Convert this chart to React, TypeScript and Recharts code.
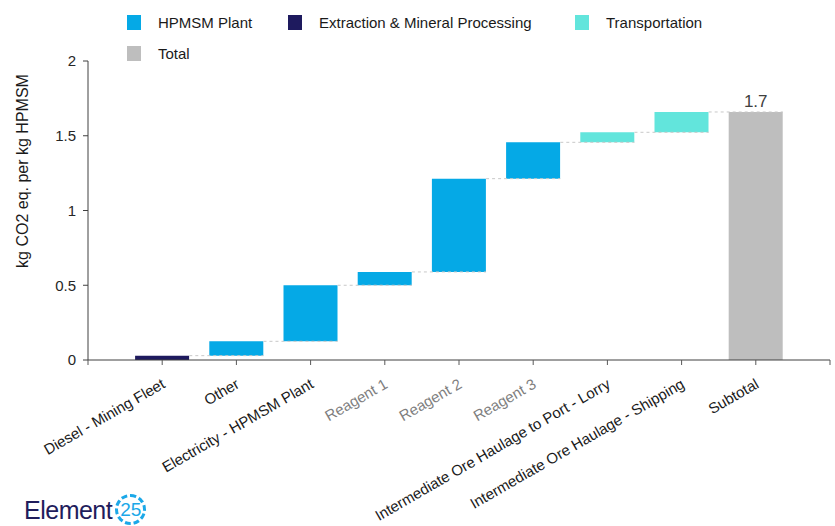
import React from "react"
import { Bar, BarChart, Cell, LabelList, Label, ReferenceLine, XAxis, YAxis } from "recharts"

const categories = [
  "Diesel - Mining Fleet",
  "Other",
  "Electricity - HPMSM Plant",
  "Reagent 1",
  "Reagent 2",
  "Reagent 3",
  "Intermediate Ore Haulage to Port - Lorry",
  "Intermediate Ore Haulage - Shipping",
  "Subtotal",
]
// contribution of each step (kg CO2 eq. per kg HPMSM), subtotal is summed
const increments = [0.029, 0.096, 0.375, 0.089, 0.624, 0.243, 0.067, 0.136]
const groups = ["extraction", "plant", "plant", "plant", "plant", "plant", "transport", "transport", "total"]
const mutedLabels = ["Reagent 1", "Reagent 2", "Reagent 3"]
const yTicks = [0, 0.5, 1, 1.5, 2]
const xTicks = [-1, 0, 1, 2, 3, 4, 5, 6, 7, 8, 9]

const colors: Record<string, string> = {
  plant: "#05A9E6",
  extraction: "#1E1A5E",
  transport: "#62E5DC",
  total: "#BEBEBE",
}

const legendItems = [
  { key: "plant", label: "HPMSM Plant" },
  { key: "extraction", label: "Extraction & Mineral Processing" },
  { key: "transport", label: "Transportation" },
  { key: "total", label: "Total" },
]

const total = increments.reduce((a, b) => a + b, 0)

let running = 0
const rows = categories.map((name, i) => {
  if (i < increments.length) {
    const row = { x: i, name, base: running, value: increments[i], end: running + increments[i], label: undefined as string | undefined }
    running += increments[i]
    return row
  }
  return { x: i, name, base: 0, value: total, end: total, label: total.toFixed(1) }
})

const font = "'Liberation Sans', Arial, sans-serif"
const halfBar = 0.365

function CategoryTick(props: any) {
  const { x, y, payload } = props
  const name = categories[payload.value]
  if (!name) return null
  const muted = mutedLabels.includes(name)
  return (
    <text
      x={x + 4}
      y={y + 22}
      textAnchor="end"
      transform={`rotate(-30, ${x + 4}, ${y + 22})`}
      fontSize={15}
      fontFamily={font}
      fill={muted ? "#7f7f7f" : "#1a1a1a"}
    >
      {name}
    </text>
  )
}

function Legend() {
  const cols = [127, 288, 575]
  return (
    <>
      {legendItems.map((item, i) => (
        <div
          key={item.key}
          style={{
            position: "absolute",
            left: cols[i % 3],
            top: i < 3 ? 14 : 45,
            display: "flex",
            alignItems: "center",
            fontSize: 15,
            color: "#1a1a1a",
          }}
        >
          <span style={{ width: 14, height: 15, background: colors[item.key], display: "inline-block" }} />
          <span style={{ marginLeft: 17 }}>{item.label}</span>
        </div>
      ))}
    </>
  )
}

export default function App() {
  return (
    <div
      style={{
        position: "absolute",
        left: 0,
        top: 0,
        width: 835,
        height: 526,
        overflow: "hidden",
        background: "#fff",
        fontFamily: font,
      }}
    >
      <BarChart width={835} height={526} data={rows} margin={{ top: 61, right: 5, left: 0, bottom: 0 }}>
        <XAxis
          type="number"
          dataKey="x"
          domain={[-1, 9]}
          ticks={xTicks}
          interval={0}
          height={166}
          tick={<CategoryTick />}
          tickSize={5}
          tickMargin={0}
          axisLine={{ stroke: "#404040" }}
          tickLine={{ stroke: "#595959" }}
        />
        <YAxis
          domain={[0, 2]}
          ticks={yTicks}
          width={88}
          tickSize={5}
          tickMargin={7}
          tick={{ fontSize: 15, fill: "#262626", fontFamily: font }}
          axisLine={{ stroke: "#404040" }}
          tickLine={{ stroke: "#404040" }}
        >
          <Label
            content={() => (
              <text
                x={22}
                y={171}
                transform="rotate(-90, 22, 171)"
                textAnchor="middle"
                dominantBaseline="central"
                fontSize={16}
                fontFamily={font}
                fill="#1a1a1a"
              >
                kg CO2 eq. per kg HPMSM
              </text>
            )}
          />
        </YAxis>
        <Bar dataKey="base" stackId="w" fill="transparent" barSize={54} isAnimationActive={false} />
        <Bar dataKey="value" stackId="w" barSize={54} isAnimationActive={false}>
          {rows.map((r, i) => (
            <Cell key={r.name} fill={colors[groups[i]]} />
          ))}
          <LabelList dataKey="label" position="top" fontSize={17} fill="#404040" fontFamily={font} />
        </Bar>
        {rows.slice(0, increments.length).map((r) => (
          <ReferenceLine
            key={`c-${r.x}`}
            segment={[
              { x: r.x + halfBar, y: r.end },
              { x: r.x + 1 + halfBar, y: r.end },
            ]}
            stroke="#c8c8c8"
            strokeDasharray="3 3"
          />
        ))}
      </BarChart>
      <Legend />
      <div style={{ position: "absolute", left: 24, top: 494, height: 31, display: "flex", alignItems: "center" }}>
        <span style={{ fontSize: 25, lineHeight: "28px", color: "#1F1D5C", letterSpacing: -0.5 }}>Element</span>
        <span
          style={{
            marginLeft: 3,
            width: 31,
            height: 31,
            borderRadius: "50%",
            border: "3px dashed #1BA8E8",
            color: "#1BA8E8",
            fontSize: 19,
            lineHeight: "19px",
            display: "flex",
            alignItems: "center",
            justifyContent: "center",
            boxSizing: "border-box",
          }}
        >
          25
        </span>
      </div>
    </div>
  )
}
